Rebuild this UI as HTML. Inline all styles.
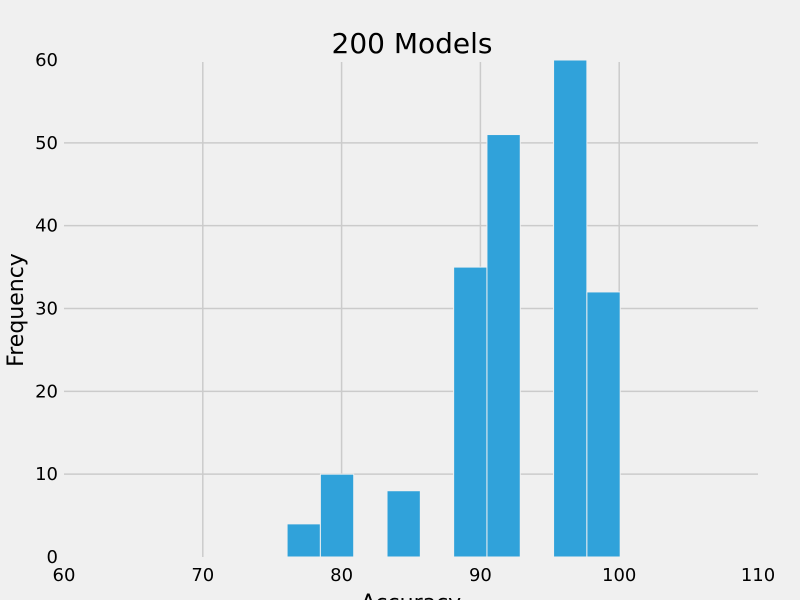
<!DOCTYPE html>
<html><head><meta charset="utf-8"><style>
body{margin:0;background:#f0f0f0;}
svg{display:block;font-family:"DejaVu Sans","Liberation Sans",sans-serif;}
</style></head><body>
<svg id="chart" width="800" height="600" viewBox="0 0 800 600">
<rect width="800" height="600" fill="#f0f0f0"/>
<g id="grid"></g><g id="bars"></g><g id="ticks"></g>
<text x="412" y="53" font-size="28" text-anchor="middle" fill="#000">200 Models</text>
<text x="411" y="610" font-size="22" text-anchor="middle" fill="#000">Accuracy</text>
<text transform="translate(23,310) rotate(-90)" font-size="22" text-anchor="middle" fill="#000">Frequency</text>
</svg>
<script>
const binStart = 76;
const binWidth = 2.4;
const counts = [4,10,0,8,0,35,51,0,60,32];
const xTicks = [60,70,80,90,100,110];
const yTicks = [0,10,20,30,40,50,60];
const X0=64,X1=758,Y0=557,Y1=60;
const xs=v=>X0+(v-60)/(110-60)*(X1-X0);
const ys=v=>Y0-(v-0)/(60-0)*(Y0-Y1);
const NS='http://www.w3.org/2000/svg';
function mk(t,a){const e=document.createElementNS(NS,t);for(const k in a)e.setAttribute(k,a[k]);return e;}
const grid=document.getElementById('grid'),bars=document.getElementById('bars'),ticks=document.getElementById('ticks');
xTicks.forEach(v=>{
  if(v>60&&v<110){const l=mk('line',{x1:xs(v),x2:xs(v),y1:Y1+2,y2:Y0,stroke:'#cbcbcb','stroke-width':1.5});
  
  
  grid.appendChild(l);}
  const t=mk('text',{x:xs(v),y:581,'font-size':18,'text-anchor':'middle',fill:'#000'});t.textContent=v;
  
  
  ticks.appendChild(t);
});
yTicks.forEach(v=>{
  if(v>0&&v<60){const l=mk('line',{x1:X0,x2:X1,y1:ys(v),y2:ys(v),stroke:'#cbcbcb','stroke-width':1.5});
  
  
  grid.appendChild(l);}
  const t=mk('text',{x:58,y:ys(v)+6,'font-size':18,'text-anchor':'end',fill:'#000'});t.textContent=v;
  
  
  ticks.appendChild(t);
});
counts.forEach((c,i)=>{
  if(c<=0)return;
  const a=binStart+i*binWidth,b=a+binWidth;
  const r=mk('rect',{x:xs(a)+1,y:ys(c),width:xs(b)-xs(a),height:ys(0)-ys(c),fill:'#30a2da',stroke:'#f0f0f0','stroke-width':1});
  
  
  bars.appendChild(r);
});
</script>
</body></html>
